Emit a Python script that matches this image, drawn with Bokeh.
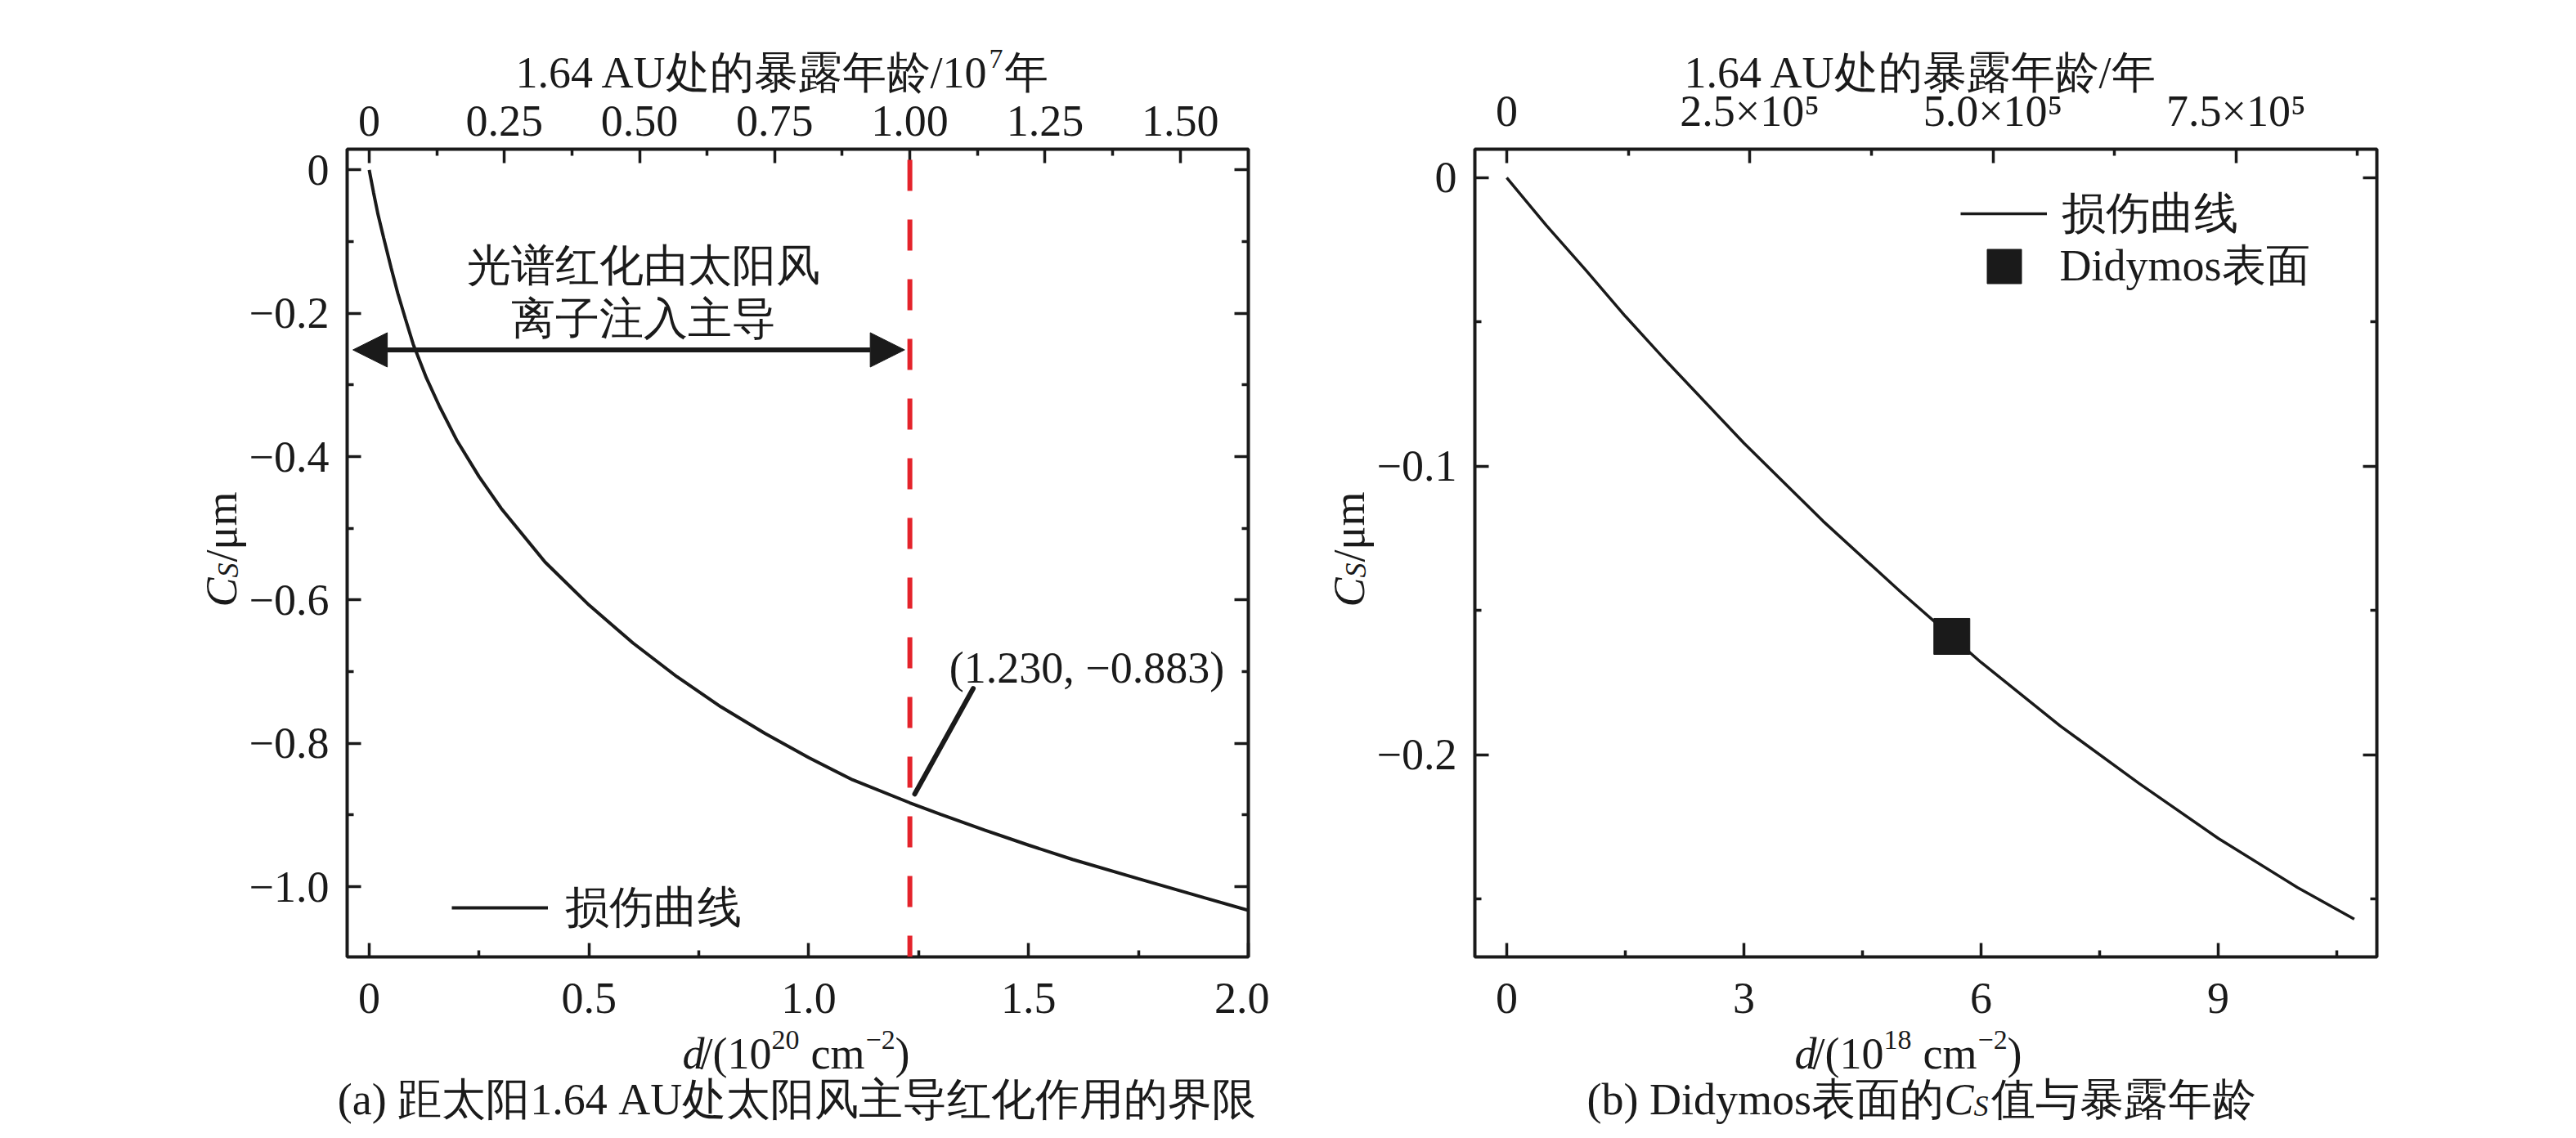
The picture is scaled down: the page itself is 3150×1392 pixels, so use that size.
import math
from bokeh.plotting import figure
from bokeh.models import (Range1d, LinearAxis, FixedTicker, Span, Label, Legend,
                          LegendItem, Arrow, NormalHead)
from bokeh.layouts import row, column
from bokeh.embed import file_html
from bokeh.resources import INLINE

# ---------------- data ----------------
# panel (a): damage curve, d in 10^20 cm^-2, Cs in um
d_left = [0, 0.01, 0.02, 0.033, 0.05, 0.065, 0.0825, 0.1, 0.13, 0.16, 0.2, 0.25,
          0.3, 0.4, 0.5, 0.6, 0.7, 0.8, 0.9, 1.0, 1.1, 1.23, 1.3, 1.4, 1.5, 1.6,
          1.75, 1.9, 2.0]
cs_left = [0, -0.032, -0.062, -0.095, -0.137, -0.172, -0.208, -0.243, -0.29, -0.33,
           -0.378, -0.428, -0.472, -0.547, -0.607, -0.66, -0.707, -0.749, -0.786, -0.82,
           -0.851, -0.883, -0.899, -0.921, -0.942, -0.962, -0.989, -1.0155, -1.033]
boundary_d = 1.23        # 10^20 cm^-2  <-> 1.0 x 10^7 yr at 1.64 AU
boundary_cs = -0.883
boundary_age = 1.0       # 10^7 yr

# panel (b): damage curve, d in 10^18 cm^-2
d_right = [0, 0.5, 1.0, 1.5, 2.0, 3.0, 4.0, 5.0, 6.0, 7.0, 8.0, 9.0, 10.0, 10.72]
cs_right = [0, -0.0165, -0.032, -0.048, -0.063, -0.092, -0.119, -0.144, -0.168,
            -0.19, -0.21, -0.229, -0.246, -0.257]
didymos_d = [5.63]
didymos_cs = [-0.159]

# ticks
a_bottom_ticks = [0, 0.5, 1, 1.5, 2]
a_bottom_minor = [0.25, 0.75, 1.25, 1.75]
a_bottom_labels = ["0", "0.5", "1.0", "1.5", "2.0"]
a_top_ticks = [0, 0.25, 0.5, 0.75, 1, 1.25, 1.5]
a_top_minor = [0.125, 0.375, 0.625, 0.875, 1.125, 1.375]
a_top_labels = ["0", "0.25", "0.50", "0.75", "1.00", "1.25", "1.50"]
a_y_ticks = [0, -0.2, -0.4, -0.6, -0.8, -1]
a_y_minor = [-0.1, -0.3, -0.5, -0.7, -0.9]
a_y_labels = ["0", "\u22120.2", "\u22120.4", "\u22120.6", "\u22120.8", "\u22121.0"]

b_bottom_ticks = [0, 3, 6, 9]
b_bottom_minor = [1.5, 4.5, 7.5, 10.5]
b_bottom_labels = ["0", "3", "6", "9"]
b_top_ticks = [0, 250000, 500000, 750000]
b_top_minor = [125000, 375000, 625000, 875000]
b_top_labels = ["0", "2.5\u00d710\u2075", "5.0\u00d710\u2075", "7.5\u00d710\u2075"]
b_y_ticks = [0, -0.1, -0.2]
b_y_minor = [-0.05, -0.15, -0.25]
b_y_labels = ["0", "\u22120.1", "\u22120.2"]

# texts
age_title = "1.64 AU\u5904\u7684\u66b4\u9732\u5e74\u9f84/"
year = "\u5e74"
curve_name = "\u635f\u4f24\u66f2\u7ebf"
point_name = "Didymos\u8868\u9762"
region_line1 = "\u5149\u8c31\u7ea2\u5316\u7531\u592a\u9633\u98ce"
region_line2 = "\u79bb\u5b50\u6ce8\u5165\u4e3b\u5bfc"
caption_a = "(a) \u8ddd\u592a\u96331.64 AU\u5904\u592a\u9633\u98ce\u4e3b\u5bfc\u7ea2\u5316\u4f5c\u7528\u7684\u754c\u9650"
caption_b1 = "(b) Didymos\u8868\u9762\u7684"
caption_b2 = "\u503c\u4e0e\u66b4\u9732\u5e74\u9f84"

# ---------------- style / geometry ----------------
FONT = "Liberation Serif"
FS = "54px"
SUB = "36px"
SUP = "34px"
INK = "#1a1a1a"
RED = "#e4232b"
PAGE = 8
FIG_H = 1376
FA_W, FB_W = 1552, 1380
FRAME_TOP, FRAME_H = 182, 988

# 10^7 yr per 10^20 cm^-2, and yr per 10^18 cm^-2
age_a_per_d = boundary_age / boundary_d
age_b_per_d = boundary_age * 1e7 / (boundary_d * 100)


def style_axis(ax, ticks, minor, labels, standoff, show=True):
    ax.ticker = FixedTicker(ticks=ticks, minor_ticks=minor)
    if show:
        ax.major_label_overrides = dict(zip(ticks, labels))
    else:
        ax.major_label_overrides = {t: "" for t in ticks}
    ax.axis_line_color = None
    ax.major_tick_in = 17
    ax.major_tick_out = 0
    ax.minor_tick_in = 8
    ax.minor_tick_out = 0
    ax.major_tick_line_width = 3.5
    ax.minor_tick_line_width = 3.5
    ax.major_tick_line_color = INK
    ax.minor_tick_line_color = INK
    ax.major_label_text_font = FONT
    ax.major_label_text_font_size = FS
    ax.major_label_text_color = INK
    ax.major_label_standoff = standoff


def make_fig(width, left, xr, yr, top_r):
    p = figure(width=width, height=FIG_H, x_range=xr, y_range=yr,
               output_backend="svg", toolbar_location=None,
               min_border_left=left, min_border_right=26,
               min_border_top=FRAME_TOP, min_border_bottom=FIG_H - FRAME_TOP - FRAME_H,
               x_axis_location="below", y_axis_location="left")
    p.extra_x_ranges = {"top": top_r}
    p.xgrid.visible = False
    p.ygrid.visible = False
    p.outline_line_color = INK
    p.outline_line_width = 4
    p.background_fill_color = "white"
    p.border_fill_color = "white"
    return p


def legend(items, loc, gw, gh, standoff):
    return Legend(items=items, location=loc, glyph_width=gw, glyph_height=gh,
                  label_height=gh, label_standoff=standoff, padding=0, margin=0,
                  spacing=0, border_line_color=None, background_fill_alpha=0,
                  label_text_font=FONT, label_text_font_size=FS, label_text_color=INK)


# ---------------- panel (a) ----------------
xa = Range1d(-0.0502, 2.0)
ya = Range1d(-1.098, 0.029)
pa = make_fig(FA_W, 424, xa, ya, Range1d(xa.start * age_a_per_d, xa.end * age_a_per_d))

style_axis(pa.below[0], a_bottom_ticks, a_bottom_minor, a_bottom_labels, 32)
style_axis(pa.left[0], a_y_ticks, a_y_minor, a_y_labels, 22)
top_a = LinearAxis(x_range_name="top")
style_axis(top_a, a_top_ticks, a_top_minor, a_top_labels, 17)
pa.add_layout(top_a, "above")
right_a = LinearAxis()
style_axis(right_a, a_y_ticks, a_y_minor, a_y_labels, 0, show=False)
pa.add_layout(right_a, "right")

pa.add_layout(Span(location=boundary_d, dimension="height", line_color=RED,
                   line_width=6, line_dash="38 35", line_dash_offset=60))
ra = pa.line(d_left, cs_left, line_color=INK, line_width=4)

# double arrow: region dominated by solar-wind implantation
arrow_d0, arrow_d1, arrow_cs = -0.037, 1.218, -0.251
pa.add_layout(Arrow(start=NormalHead(size=42, fill_color=INK, line_color=INK, line_width=1),
                    end=NormalHead(size=42, fill_color=INK, line_color=INK, line_width=1),
                    x_start=arrow_d0, y_start=arrow_cs, x_end=arrow_d1, y_end=arrow_cs,
                    line_color=INK, line_width=6))
region_d, region_cs1, region_cs2 = 0.625, -0.1338, -0.2075
for txt, yy in ((region_line1, region_cs1), (region_line2, region_cs2)):
    pa.add_layout(Label(x=region_d, y=yy, text=txt, text_font=FONT, text_font_size=FS,
                        text_align="center", text_baseline="alphabetic", text_color=INK))

# leader + value label of the boundary point
lead_d0, lead_cs0, lead_d1, lead_cs1 = 1.241, -0.8707, 1.374, -0.7235
pa.segment(x0=[lead_d0], y0=[lead_cs0], x1=[lead_d1], y1=[lead_cs1],
           line_color=INK, line_width=6, line_cap="round")
pa.add_layout(Label(x=1.3195, y=-0.695,
                    text="(%.3f, \u2212%.3f)" % (boundary_d, abs(boundary_cs)),
                    text_font=FONT, text_font_size=FS, text_align="left",
                    text_baseline="alphabetic", text_color=INK))

pa.add_layout(legend([LegendItem(label=curve_name, renderers=[ra])], (128, 20), 118, 80, 21))

# ---------------- panel (b) ----------------
xb = Range1d(-0.403, 11.006)
yb = Range1d(-0.2701, 0.0099)
pb = make_fig(FB_W, 251, xb, yb, Range1d(xb.start * age_b_per_d, xb.end * age_b_per_d))

style_axis(pb.below[0], b_bottom_ticks, b_bottom_minor, b_bottom_labels, 32)
style_axis(pb.left[0], b_y_ticks, b_y_minor, b_y_labels, 22)
top_b = LinearAxis(x_range_name="top")
style_axis(top_b, b_top_ticks, b_top_minor, b_top_labels, 17)
pb.add_layout(top_b, "above")
right_b = LinearAxis()
style_axis(right_b, b_y_ticks, b_y_minor, b_y_labels, 0, show=False)
pb.add_layout(right_b, "right")

rb = pb.line(d_right, cs_right, line_color=INK, line_width=3.5)
rs = pb.scatter(didymos_d, didymos_cs, marker="square", size=44,
                fill_color=INK, line_color=INK)

pb.add_layout(legend([LegendItem(label=curve_name, renderers=[rb])], (594, 869), 106, 80, 18))
pb.add_layout(legend([LegendItem(label=point_name, renderers=[rs])], (594.5, 792), 105, 105, 16))

# ---------------- text layer over both panels (axis titles and captions) ----------------
W = FA_W + FB_W
po = figure(width=W, height=FIG_H, x_range=Range1d(0, W), y_range=Range1d(FIG_H, 0),
            output_backend="svg", toolbar_location=None, min_border=0,
            x_axis_location=None, y_axis_location=None)
po.grid.visible = False
po.outline_line_color = None
po.background_fill_alpha = 0
po.border_fill_alpha = 0
po.margin = (-FIG_H, 0, 0, 0)
po.styles = {"margin-top": "-%dpx" % FIG_H}


def olabel(px, py, text, size=FS, style="normal", align="left", angle=0.0):
    """Text placed by page pixel position (page has an 8px margin)."""
    po.add_layout(Label(x=px - PAGE, y=py - PAGE, text=text, text_font=FONT,
                        text_font_size=size, text_font_style=style, text_align=align,
                        text_baseline="alphabetic", angle=angle, text_color=INK))


# top axis titles
top_base = 96
olabel(638, top_base, age_title + "10")
olabel(1217, top_base - 17, "7", size=SUP)
olabel(1235, top_base, year)
olabel(2067, top_base, age_title + year)

# rotated y titles  C_S/um
for fx in (432, PAGE + FA_W + 251):     # page x of each frame's left edge
    bx = fx - 154
    olabel(bx, 750, "C", style="italic", angle=math.pi / 2)
    olabel(bx + 8, 714, "S", size=SUB, style="italic", angle=math.pi / 2)
    olabel(bx, 695, "/\u03bcm", angle=math.pi / 2)

# bottom axis titles  d/(10^n cm^-2)
for x0, expo in ((842, "20"), (2202, "18")):
    by = 1296.7
    olabel(x0, by, "d", style="italic")
    olabel(x0 + 22, by, "/(10")
    olabel(x0 + 109, by - 17, expo, size=SUP)
    olabel(x0 + 157, by, "cm")
    olabel(x0 + 224, by - 17, "\u22122", size=SUP)
    olabel(x0 + 260, by, ")")

# captions
cap_y = 1352
olabel(982, cap_y, caption_a, align="center")
cb = 1948
olabel(cb, cap_y, caption_b1)
olabel(cb + 437, cap_y, "C", style="italic")
olabel(cb + 473, cap_y + 8, "S", size=SUB, style="italic")
olabel(cb + 494, cap_y, caption_b2)

layout = column(row(pa, pb), po)
open("out.html", "w").write(file_html(layout, INLINE, title="Cs damage curve"))
